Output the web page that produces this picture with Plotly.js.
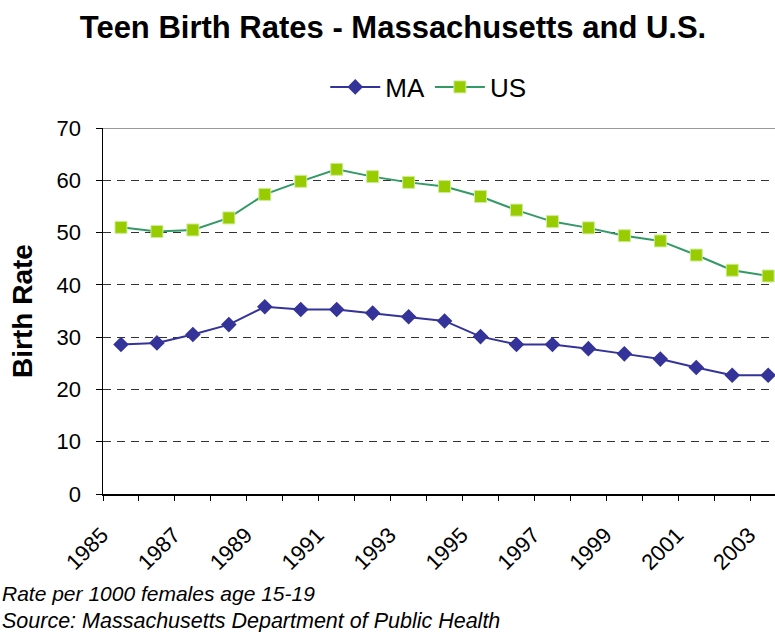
<!DOCTYPE html>
<html>
<head>
<meta charset="utf-8">
<script src="https://cdn.plot.ly/plotly-3.0.1.min.js"></script>
<style>html,body{margin:0;padding:0;background:#fff;}#chart{width:775px;height:632px;}</style>
</head>
<body>
<div id="chart"></div>
<script>
const years = [1985,1986,1987,1988,1989,1990,1991,1992,1993,1994,1995,1996,1997,1998,1999,2000,2001,2002,2003];
const maRates = [28.6,28.9,30.5,32.4,35.8,35.3,35.3,34.6,33.9,33.1,30.1,28.6,28.6,27.8,26.8,25.8,24.2,22.7,22.7];
const usRates = [51.0,50.2,50.5,52.8,57.3,59.8,62.1,60.7,59.6,58.8,56.9,54.3,52.1,50.9,49.4,48.4,45.7,42.8,41.7];
const xTickLabels = ['1985','1987','1989','1991','1993','1995','1997','1999','2001','2003'];
const xTickVals = xTickLabels.map(Number);
const yTicks = [0,10,20,30,40,50,60,70];

const FONT = 'Liberation Sans, Arial, sans-serif';

const traces = [
  {
    x: years, y: maRates, name: 'MA', type: 'scatter', mode: 'lines+markers',
    line: {color: '#333399', width: 2},
    marker: {symbol: 'diamond', size: 12, color: '#333399', line: {width: 0}}
  },
  {
    x: years, y: usRates, name: 'US', type: 'scatter', mode: 'lines+markers',
    line: {color: '#339966', width: 2},
    marker: {symbol: 'square', size: 12, color: '#99CC00', line: {color: '#CCEE99', width: 1}}
  }
];

const layout = {
  width: 775, height: 632,
  margin: {l: 103, r: 0, t: 128, b: 138},
  paper_bgcolor: '#fff', plot_bgcolor: '#fff',
  font: {family: FONT, color: '#000'},
  title: {
    text: '<b>Teen Birth Rates - Massachusetts and U.S.</b>',
    font: {family: FONT, size: 31, color: '#000'},
    x: 393/775, xref: 'container', xanchor: 'center',
    y: 1 - 27/632, yref: 'container', yanchor: 'middle'
  },
  showlegend: true,
  legend: {
    orientation: 'h', x: 0.484, xanchor: 'center', y: (494-87)/366, yanchor: 'middle',
    itemwidth: 50,
    font: {family: FONT, size: 26, color: '#000'}, bgcolor: 'rgba(0,0,0,0)'
  },
  xaxis: {
    type: 'linear', range: [1984.5, 2003.19],
    tickmode: 'array', tickvals: xTickVals, ticktext: xTickLabels,
    ticks: '', tickangle: -45, ticklabelstandoff: 18, ticklabelshift: -19,
    ticklabeloverflow: 'allow',
    tickfont: {family: FONT, size: 22, color: '#000'},
    showgrid: false, zeroline: false,
    showline: true, linecolor: '#000', linewidth: 1.5,
    minor: {tick0: 1984.5, dtick: 1, ticks: 'outside', ticklen: 5, tickcolor: '#000', tickwidth: 1, showgrid: false}
  },
  yaxis: {
    range: [0, 70], tickmode: 'array', tickvals: yTicks,
    ticks: 'outside', ticklen: 6, tickcolor: '#000', tickwidth: 1,
    ticklabelstandoff: 10,
    tickfont: {family: FONT, size: 22, color: '#000'},
    showgrid: true, gridcolor: '#333', gridwidth: 1, griddash: '8px,6px',
    zeroline: false, showline: true, linecolor: '#000', linewidth: 1.5,
    title: {text: '<b>Birth Rate</b>', font: {family: FONT, size: 28, color: '#000'}, standoff: 16}
  },
  shapes: [
    {type: 'line', xref: 'paper', yref: 'y', x0: 0, x1: 1, y0: 70, y1: 70, line: {color: '#999', width: 2}, layer: 'above'}
  ],
  annotations: [
    {text: '<i>Rate per 1000 females age 15-19</i>', xref: 'paper', yref: 'paper', x: -103/672, xanchor: 'left', y: (494-593)/366, yanchor: 'middle', showarrow: false, font: {family: FONT, size: 21, color: '#000'}},
    {text: '<i>Source: Massachusetts Department of Public Health</i>', xref: 'paper', yref: 'paper', x: -103/672, xanchor: 'left', y: (494-621)/366, yanchor: 'middle', showarrow: false, font: {family: FONT, size: 21.5, color: '#000'}}
  ]
};

Plotly.newPlot('chart', traces, layout, {displayModeBar: false, staticPlot: true});
</script>
</body>
</html>
